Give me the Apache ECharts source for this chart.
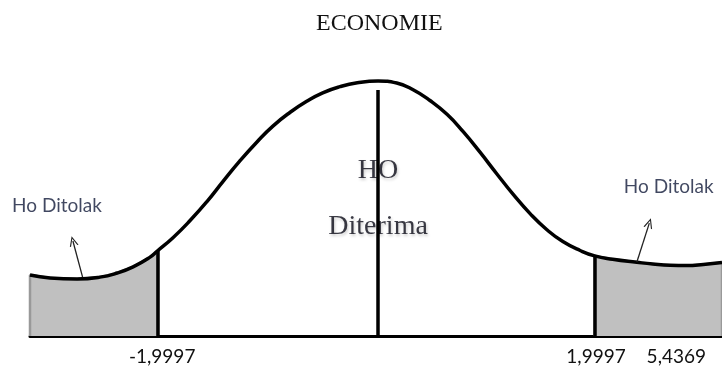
<!DOCTYPE html>
<html>
<head>
<meta charset="utf-8">
<script src="https://cdn.jsdelivr.net/npm/echarts@6/dist/echarts.min.js"></script>
<style>
  html, body { margin: 0; padding: 0; background: #fff; }
  #chart { width: 722px; height: 372px; }
</style>
</head>
<body>
<div id="chart"></div>
<script>
// schematic units: x 0..100 across the axis, y 0..100 relative density
const curveX = [0, 2.9, 6.8, 10.1, 12.6, 14.9, 17.3, 18.4, 20.7, 23.1, 25.6, 27.9, 30.3, 32.8, 35.1, 37.6, 40.0, 42.3, 44.8, 47.3, 50.3,
  53.0, 55.3, 57.8, 60.3, 62.6, 65.0, 67.5, 69.8, 72.3, 74.7, 77.0, 79.5, 81.6, 84.2, 87.7, 90.0, 92.5, 94.9, 97.3, 100];
const curveY = [23.8, 22.7, 22.3, 23.0, 24.6, 27.0, 30.7, 33.2, 38.5, 45.0, 52.6, 60.4, 68.3, 75.8, 82.0, 87.4, 91.7, 95.0, 97.4, 98.9, 99.6,
  98.8, 96.3, 92.0, 86.5, 79.8, 71.9, 63.2, 55.4, 47.7, 41.5, 36.9, 33.4, 31.3, 30.0, 28.8, 28.1, 27.6, 27.5, 27.9, 28.7];

const cutX = [18.4, 50.3, 81.6];
const cutTop = [33.2, 96.1, 31.3];

const tickValues = [19.1, 81.8, 93.4];
const tickLabels = ['-1,9997', '1,9997', '5,4369'];

const arrowFrom = [[7.6, 23.0], [87.7, 28.9]];
const arrowTo = [[6.2, 37.1], [89.5, 44.1]];

const sideText = ['Ho Ditolak', 'Ho Ditolak'];
const sidePos = [[3.9, 50.8], [92.3, 58.2]];
const centerText = ['HO', 'Diterima'];
const centerPos = [[50.3, 64.5], [50.3, 42.8]];

const curve = curveX.map((x, i) => [x, curveY[i]]);
const leftTail = [[0, 0]].concat(curve.filter(p => p[0] <= cutX[0]), [[cutX[0], 0]]);
const rightTail = [[cutX[2], 0]].concat(curve.filter(p => p[0] >= cutX[2]), [[100, 0]]);

const chart = echarts.init(document.getElementById('chart'));

const tailStyle = {
  type: 'line',
  symbol: 'none',
  silent: true,
  clip: false,
  lineStyle: { color: '#999', width: 2.5 },
  areaStyle: { color: '#c0c0c0', opacity: 1 },
};

chart.setOption({
  animation: false,
  title: {
    text: 'ECONOMIE',
    left: 311,
    top: 7,
    textStyle: { fontFamily: 'Liberation Serif', fontSize: 24, fontWeight: 'normal', color: '#111' },
  },
  grid: { left: 30, right: 0, top: 80, bottom: 36 },
  xAxis: {
    type: 'value',
    min: 0,
    max: 100,
    splitLine: { show: false },
    axisLine: { show: true, lineStyle: { color: '#000', width: 3 } },
    axisTick: { show: false, customValues: tickValues },
    axisLabel: {
      customValues: tickValues,
      margin: 11,
      fontFamily: 'Lato',
      fontSize: 19,
      color: '#111',
      formatter: v => tickLabels[tickValues.indexOf(v)] || '',
    },
  },
  yAxis: { type: 'value', min: 0, max: 100, show: false },
  series: [
    Object.assign({ data: leftTail }, tailStyle),
    Object.assign({ data: rightTail }, tailStyle),
    {
      type: 'line',
      data: curve,
      smooth: 0.5,
      symbol: 'none',
      clip: false,
      lineStyle: { color: '#000', width: 3.5 },
      markLine: {
        silent: true,
        symbol: 'none',
        label: { show: false },
        lineStyle: { color: '#000', width: 3.5, type: 'solid' },
        data: cutX.map((x, i) => [{ coord: [x, 0] }, { coord: [x, cutTop[i]] }]),
      },
    },
    {
      type: 'line',
      data: [],
      markLine: {
        silent: true,
        symbol: ['none', 'path://M0,10 L5,0 L10,10 L8.6,10 L5,2.6 L1.4,10 Z'],
        symbolSize: [9, 10],
        label: { show: false },
        lineStyle: { color: '#222', width: 1.3, type: 'solid' },
        data: arrowFrom.map((p, i) => [{ coord: p }, { coord: arrowTo[i] }]),
      },
    },
    {
      type: 'scatter',
      symbolSize: 0,
      silent: true,
      data: sidePos.map((p, i) => [p[0], p[1], sideText[i]]),
      label: {
        show: true,
        position: 'inside',
        formatter: p => p.value[2],
        fontFamily: 'Lato',
        fontSize: 19,
        color: '#121a3a',
      },
    },
    {
      type: 'scatter',
      symbolSize: 0,
      silent: true,
      data: centerPos.map((p, i) => [p[0], p[1], centerText[i]]),
      label: {
        show: true,
        position: 'inside',
        formatter: p => p.value[2],
        fontFamily: 'Liberation Serif',
        fontSize: 28,
        color: '#0a0a16',
        textShadowColor: 'rgba(0,0,0,0.25)',
        textShadowBlur: 3,
        textShadowOffsetX: 1,
        textShadowOffsetY: 2,
      },
    },
  ],
});
</script>
</body>
</html>
